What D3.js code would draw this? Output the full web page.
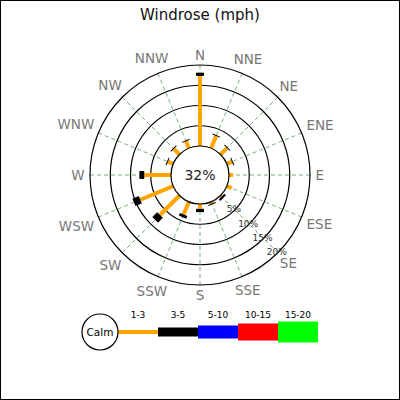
<!DOCTYPE html>
<html>
<head>
<meta charset="utf-8">
<script src="https://cdn.jsdelivr.net/npm/d3@7"></script>
<style>
  body { margin: 0; background: #fff; }
  text { font-family: "DejaVu Sans", sans-serif; }
</style>
</head>
<body>
<div id="chart"></div>
<script>
// data
const directions = ['N', 'NNE', 'NE', 'ENE', 'E', 'ESE', 'SE', 'SSE',
  'S', 'SSW', 'SW', 'WSW', 'W', 'WNW', 'NW', 'NNW'];
const range1to3 = [17.3, 3.3, 2.3, 1.5, 1.0, 1.3, 0.4, 0.5, 1.2, 3.4, 6.8, 8.8, 6.6, 1.5, 2.0, 1.9];
const range3to5 = [0.8, 0.2, 0.2, 0.1, 0.0, 0.0, 0.5, 0.2, 0.8, 0.7, 1.7, 1.7, 1.2, 0.15, 0.2, 0.2];
const ringTicks = [5, 10, 15, 20];
const calmValue = 32;
const legendLabels = ['1-3', '3-5', '5-10', '10-15', '15-20'];

const width = 400;
const height = 400;
const cx = 200;
const cy = 175;
const calmR = 29;
const colors = ['#ffa500', '#000000', '#0000ff', '#ff0000', '#00ff00'];
const barWidths = [4, 8];
const legendHeights = [4, 9, 13, 17, 21];

const svg = d3.select('#chart')
  .append('svg')
  .attr('width', width)
  .attr('height', height);

svg.append('rect')
  .attr('x', 0.5).attr('y', 0.5)
  .attr('width', width - 1).attr('height', height - 1)
  .attr('fill', '#fff')
  .attr('stroke', '#000');

svg.append('text')
  .text('Windrose (mph)')
  .attr('x', cx).attr('y', 20)
  .attr('text-anchor', 'middle')
  .attr('font-size', '15px')
  .attr('fill', '#111');

const scaleR = d3.scaleLinear().domain([0, 20]).range([calmR, 110]);
const angle = d3.scaleLinear().domain([0, directions.length]).range([0, 2 * Math.PI]);

const g = svg.append('g').attr('transform', 'translate(' + cx + ',' + cy + ')');

// radial grid lines
g.selectAll('.spoke')
  .data(directions)
  .enter()
  .append('line')
  .attr('class', 'spoke')
  .attr('x1', (d, i) => calmR * Math.sin(angle(i)))
  .attr('y1', (d, i) => -calmR * Math.cos(angle(i)))
  .attr('x2', (d, i) => scaleR(20) * Math.sin(angle(i)))
  .attr('y2', (d, i) => -scaleR(20) * Math.cos(angle(i)))
  .attr('stroke', '#3c8c3c')
  .attr('stroke-width', 0.7)
  .attr('stroke-dasharray', '4,3');

// rings
g.selectAll('.ring')
  .data(ringTicks)
  .enter()
  .append('circle')
  .attr('class', 'ring')
  .attr('r', d => scaleR(d))
  .attr('fill', 'none')
  .attr('stroke', '#000')
  .attr('stroke-width', 1.2);

// bars: one segment per range
const stacked = directions.map((d, i) => {
  const a = range1to3[i];
  const b = range3to5[i];
  return [
    { i: i, r0: 0, r1: a, k: 0 },
    { i: i, r0: a, r1: a + b, k: 1 }
  ];
});

g.selectAll('.dir')
  .data(stacked)
  .enter()
  .append('g')
  .attr('class', 'dir')
  .attr('transform', (d, i) => 'rotate(' + (angle(i) * 180 / Math.PI) + ')')
  .selectAll('rect')
  .data(d => d.filter(s => s.r1 > s.r0))
  .enter()
  .append('rect')
  .attr('x', d => -barWidths[d.k] / 2)
  .attr('y', d => -scaleR(d.r1))
  .attr('width', d => barWidths[d.k])
  .attr('height', d => Math.max(1, scaleR(d.r1) - scaleR(d.r0)))
  .attr('fill', d => colors[d.k]);

// calm circle
g.append('circle')
  .attr('r', calmR)
  .attr('fill', '#fff')
  .attr('stroke', '#000')
  .attr('stroke-width', 1.2);

g.append('text')
  .text(calmValue + '%')
  .attr('y', 5)
  .attr('text-anchor', 'middle')
  .attr('font-size', '14px')
  .attr('fill', '#222');

// ring labels on the SE diagonal
const labAngle = 3 * Math.PI / 4;
g.selectAll('.ringlab')
  .data(ringTicks)
  .enter()
  .append('text')
  .attr('class', 'ringlab')
  .text(d => d + '%')
  .attr('x', d => scaleR(d) * Math.sin(labAngle) - 1)
  .attr('y', d => -scaleR(d) * Math.cos(labAngle) + 2.5)
  .attr('text-anchor', 'middle')
  .attr('font-size', '9px')
  .attr('fill', '#333');

// compass labels, pushed out so the text box clears the outer ring
const labelFont = 13.5;
const labelR = 115.5;
g.selectAll('.compass')
  .data(directions)
  .enter()
  .append('text')
  .attr('class', 'compass')
  .text(d => d)
  .attr('text-anchor', 'middle')
  .attr('font-size', labelFont + 'px')
  .attr('fill', '#777')
  .each(function(d, i) {
    const hw = this.getComputedTextLength() / 2;
    const hh = labelFont * 0.73 / 2;
    const s = Math.sin(angle(i));
    const c = Math.cos(angle(i));
    const r = labelR + hw * Math.abs(s) + hh * Math.abs(c);
    d3.select(this)
      .attr('x', r * s)
      .attr('y', -r * c + hh);
  });

// legend
const legendX = d3.scaleBand()
  .domain(legendLabels)
  .range([118, 318]);
const legendY = 332;

const legend = svg.append('g').attr('class', 'legend');

legend.selectAll('rect')
  .data(legendLabels)
  .enter()
  .append('rect')
  .attr('x', d => legendX(d))
  .attr('y', (d, i) => legendY - legendHeights[i] / 2)
  .attr('width', legendX.bandwidth())
  .attr('height', (d, i) => legendHeights[i])
  .attr('fill', (d, i) => colors[i]);

legend.selectAll('text')
  .data(legendLabels)
  .enter()
  .append('text')
  .text(d => d)
  .attr('x', d => legendX(d) + legendX.bandwidth() / 2)
  .attr('y', 318)
  .attr('text-anchor', 'middle')
  .attr('font-size', '9px')
  .attr('fill', '#000');

legend.append('circle')
  .attr('cx', 100).attr('cy', legendY)
  .attr('r', 18)
  .attr('fill', '#fff')
  .attr('stroke', '#000')
  .attr('stroke-width', 1.2);

legend.append('text')
  .text('Calm')
  .attr('x', 100).attr('y', legendY + 4)
  .attr('text-anchor', 'middle')
  .attr('font-size', '10.5px')
  .attr('fill', '#000');
</script>
</body>
</html>
